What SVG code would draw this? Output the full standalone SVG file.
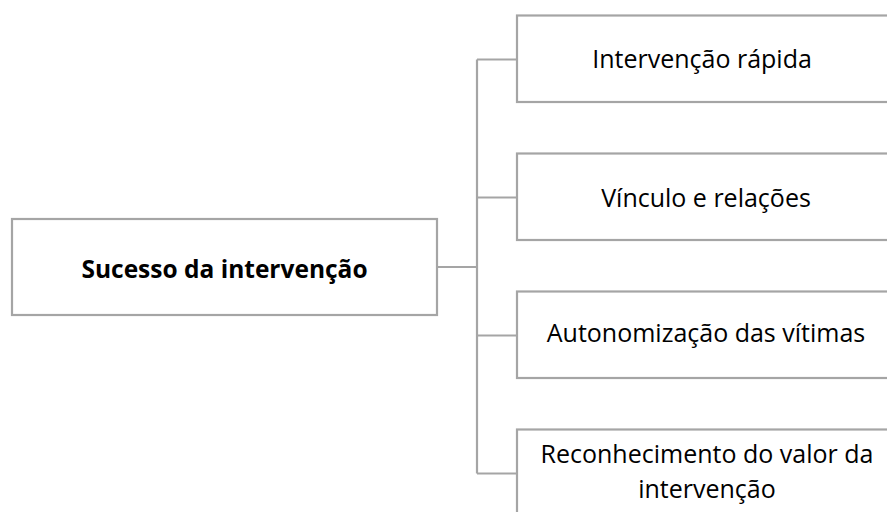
<svg xmlns="http://www.w3.org/2000/svg" width="887" height="512" viewBox="0 0 887 512">
<style>
.box{fill:#ffffff;stroke:#a5a5a5;stroke-width:2.2}
.lnk{fill:none;stroke:#a5a5a5;stroke-width:2.2}
.t{font-family:"Open Sans","Noto Sans",sans-serif;font-size:25px;fill:#000;text-anchor:middle}
.b{font-weight:bold;font-size:24.5px}
</style>
<rect width="887" height="512" fill="#ffffff"/>
<g id="connectors">
<path class="lnk" d="M437,267 H477 M477,59.5 V473.5 M477,59.5 H517 M477,197.5 H517 M477,335.5 H517 M477,473.5 H517"/>
</g>
<g id="root">
<rect class="box" x="12" y="219" width="425" height="96"/>
<text class="t b" x="224.5" y="278">Sucesso da intervenção</text>
</g>
<g id="n1">
<rect class="box" x="517" y="15.5" width="380" height="86.5"/>
<text class="t" x="702" y="68">Intervenção rápida</text>
</g>
<g id="n2">
<rect class="box" x="517" y="153.5" width="380" height="86.5"/>
<text class="t" x="706" y="207">Vínculo e relações</text>
</g>
<g id="n3">
<rect class="box" x="517" y="291.5" width="380" height="86.5"/>
<text class="t" x="706" y="342">Autonomização das vítimas</text>
</g>
<g id="n4">
<rect class="box" x="517" y="429.5" width="380" height="86.5"/>
<text class="t" x="707" y="463">Reconhecimento do valor da</text>
<text class="t" x="707" y="498">intervenção</text>
</g>
</svg>
